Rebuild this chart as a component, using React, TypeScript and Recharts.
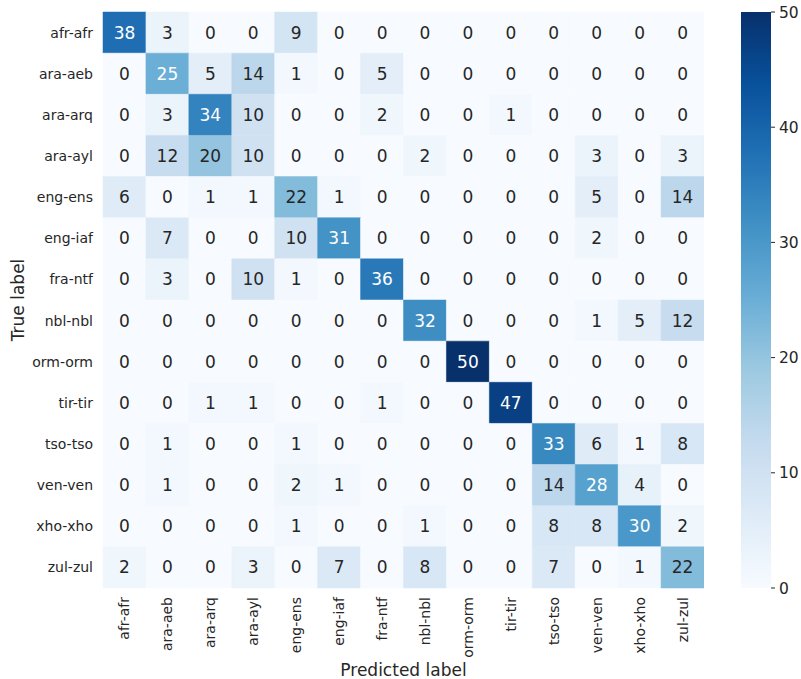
import { BarChart, Bar, XAxis, YAxis, Cell, LabelList } from "recharts";

const LABELS = [
  "afr-afr", "ara-aeb", "ara-arq", "ara-ayl", "eng-ens", "eng-iaf", "fra-ntf",
  "nbl-nbl", "orm-orm", "tir-tir", "tso-tso", "ven-ven", "xho-xho", "zul-zul",
];

// rows = true label, columns = predicted label
const MATRIX = [
  [38, 3, 0, 0, 9, 0, 0, 0, 0, 0, 0, 0, 0, 0],
  [0, 25, 5, 14, 1, 0, 5, 0, 0, 0, 0, 0, 0, 0],
  [0, 3, 34, 10, 0, 0, 2, 0, 0, 1, 0, 0, 0, 0],
  [0, 12, 20, 10, 0, 0, 0, 2, 0, 0, 0, 3, 0, 3],
  [6, 0, 1, 1, 22, 1, 0, 0, 0, 0, 0, 5, 0, 14],
  [0, 7, 0, 0, 10, 31, 0, 0, 0, 0, 0, 2, 0, 0],
  [0, 3, 0, 10, 1, 0, 36, 0, 0, 0, 0, 0, 0, 0],
  [0, 0, 0, 0, 0, 0, 0, 32, 0, 0, 0, 1, 5, 12],
  [0, 0, 0, 0, 0, 0, 0, 0, 50, 0, 0, 0, 0, 0],
  [0, 0, 1, 1, 0, 0, 1, 0, 0, 47, 0, 0, 0, 0],
  [0, 1, 0, 0, 1, 0, 0, 0, 0, 0, 33, 6, 1, 8],
  [0, 1, 0, 0, 2, 1, 0, 0, 0, 0, 14, 28, 4, 0],
  [0, 0, 0, 0, 1, 0, 0, 1, 0, 0, 8, 8, 30, 2],
  [2, 0, 0, 3, 0, 7, 0, 8, 0, 0, 7, 0, 1, 22],
];

const VMAX = 50;
const CBAR_TICKS = [0, 10, 20, 30, 40, 50];

// matplotlib "Blues"
const BLUES = [
  [247, 251, 255], [222, 235, 247], [198, 219, 239], [158, 202, 225],
  [107, 174, 214], [66, 146, 198], [33, 113, 181], [8, 81, 156], [8, 48, 107],
];

const FONT = "DejaVu Sans, sans-serif";
const INK = "#262626";

function blues(t: number): [number, number, number] {
  const c = Math.max(0, Math.min(1, t)) * (BLUES.length - 1);
  const i = Math.min(Math.floor(c), BLUES.length - 2);
  const f = c - i;
  const a = BLUES[i], b = BLUES[i + 1];
  return [0, 1, 2].map((k) => Math.round(a[k] + (b[k] - a[k]) * f)) as [number, number, number];
}

const toHex = (rgb: number[]) =>
  "#" + rgb.map((v) => v.toString(16).padStart(2, "0")).join("");

function textColor(rgb: number[]) {
  const lin = rgb.map((v) => {
    const s = v / 255;
    return s <= 0.03928 ? s / 12.92 : Math.pow((s + 0.055) / 1.055, 2.4);
  });
  const lum = 0.2126 * lin[0] + 0.7152 * lin[1] + 0.0722 * lin[2];
  return lum > 0.408 ? INK : "#ffffff";
}

// one object per predicted column, one stacked bar per true row
const data = LABELS.map((name, j) => {
  const row: Record<string, number | string> = { name };
  MATRIX.forEach((r, i) => {
    row[`r${i}`] = 1;
    row[`v${i}`] = r[j];
  });
  return row;
});

const XTick = ({ x, y, payload }: any) => (
  <text
    x={x}
    y={y}
    transform={`rotate(-90, ${x}, ${y})`}
    textAnchor="end"
    dominantBaseline="central"
    fontFamily={FONT}
    fontSize={14}
    fill={INK}
  >
    {payload.value}
  </text>
);

const cbarData = [{ name: "cbar", value: VMAX }];

export default function App() {
  return (
    <div style={{ position: "absolute", left: 0, top: 0, width: 801, height: 679, background: "#fff" }}>
      <div style={{ position: "absolute", left: 0, top: 0 }}>
        <BarChart
          width={704}
          height={679}
          data={data}
          margin={{ top: 12, right: 0, bottom: 11, left: 13 }}
          barCategoryGap={0}
        >
          <XAxis
            dataKey="name"
            type="category"
            interval={0}
            axisLine={false}
            tickLine={false}
            tickSize={0}
            tickMargin={9}
            height={80}
            tick={<XTick />}
            label={{
              content: ({ viewBox }: any) => (
                <text
                  x={viewBox.x + viewBox.width / 2}
                  y={viewBox.y + 82}
                  textAnchor="middle"
                  dominantBaseline="central"
                  fontFamily={FONT}
                  fontSize={17}
                  fill={INK}
                >
                  Predicted label
                </text>
              ),
            }}
          />
          <YAxis
            type="number"
            domain={[0, LABELS.length]}
            reversed
            ticks={LABELS.map((_, i) => i + 0.5)}
            tickFormatter={(v: number) => LABELS[Math.floor(v)]}
            interval={0}
            axisLine={false}
            tickLine={false}
            tickSize={0}
            tickMargin={10}
            width={90}
            tick={{ fontFamily: FONT, fontSize: 14, fill: INK }}
            label={{
              content: ({ viewBox }: any) => {
                const x = 18;
                const y = viewBox.y + viewBox.height / 2;
                return (
                  <text
                    x={x}
                    y={y}
                    transform={`rotate(-90, ${x}, ${y})`}
                    textAnchor="middle"
                    dominantBaseline="central"
                    fontFamily={FONT}
                    fontSize={17}
                    fill={INK}
                  >
                    True label
                  </text>
                );
              },
            }}
          />
          {MATRIX.map((r, i) => (
            <Bar key={i} dataKey={`r${i}`} stackId="m" isAnimationActive={false}>
              {r.map((v, j) => {
                const c = toHex(blues(v / VMAX));
                return <Cell key={j} fill={c} stroke={c} strokeWidth={0.5} />;
              })}
              <LabelList
                dataKey={`v${i}`}
                content={(p: any) => {
                  const v = Number(p.value);
                  return (
                    <text
                      x={p.x + p.width / 2}
                      y={p.y + p.height / 2}
                      textAnchor="middle"
                      dominantBaseline="central"
                      fontFamily={FONT}
                      fontSize={17}
                      fill={textColor(blues(v / VMAX))}
                    >
                      {v}
                    </text>
                  );
                }}
              />
            </Bar>
          ))}
        </BarChart>
      </div>
      <div style={{ position: "absolute", left: 0, top: 0 }}>
        <BarChart
          width={801}
          height={679}
          data={cbarData}
          margin={{ top: 12, right: 0, bottom: 91, left: 741 }}
          barCategoryGap={0}
        >
          <defs>
            <linearGradient id="cbar" x1="0" y1="1" x2="0" y2="0">
              {BLUES.map((c, k) => (
                <stop key={k} offset={k / (BLUES.length - 1)} stopColor={toHex(c)} />
              ))}
            </linearGradient>
          </defs>
          <XAxis dataKey="name" hide />
          <YAxis
            orientation="right"
            type="number"
            domain={[0, VMAX]}
            ticks={CBAR_TICKS}
            interval={0}
            axisLine={false}
            tickLine={{ stroke: INK, strokeWidth: 1 }}
            tickSize={4}
            tickMargin={4}
            width={30}
            tick={{ fontFamily: FONT, fontSize: 15.5, fill: INK }}
          />
          <Bar dataKey="value" fill="url(#cbar)" isAnimationActive={false} />
        </BarChart>
      </div>
    </div>
  );
}
